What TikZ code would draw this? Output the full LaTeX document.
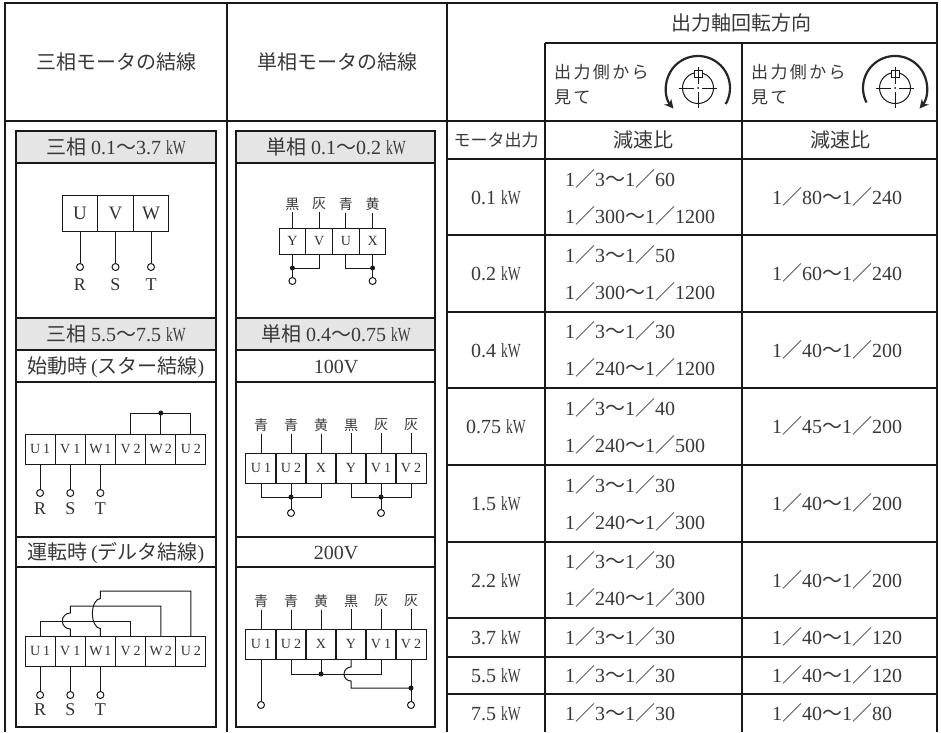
\documentclass[tikz,border=0pt]{standalone}
\usepackage{fontspec}
\usepackage{graphicx}
\usetikzlibrary{arrows.meta}
\setmainfont{Liberation Serif}
\newfontfamily\jp{Noto Sans CJK JP}
\newfontfamily\jpwide[LetterSpace=14]{Noto Sans CJK JP}
\newcommand\sla{{\jp ／}}
\newcommand\til{{\jp 〜}}
\newcommand\kw{\scalebox{0.68}[1]{kW}}
\tikzset{
  tabline/.style={line width=1.1pt, draw=black!90},
  wire/.style={line width=1pt, draw=black!90},
  hdrfill/.style={fill=black!10},
  txt/.style={font=\fontsize{20}{23}\selectfont, text=black!78, inner sep=0pt, text height=15pt, text depth=1pt},
  smalltxt/.style={font=\fontsize{17}{20}\selectfont, text=black!78, inner sep=0pt, text height=13pt, text depth=1pt},
  colour/.style={font=\fontsize{14}{16}\selectfont\jp, text=black!78, inner sep=2pt},
  cellbig/.style={wire, minimum width=35.5pt, minimum height=36pt, inner sep=0pt, outer sep=0pt, font=\fontsize{19}{22}\selectfont, text=black!80},
  cellfour/.style={wire, minimum width=26.75pt, minimum height=26pt, inner sep=0pt, outer sep=0pt, font=\fontsize{14}{16}\selectfont, text=black!80},
  cellsix/.style={wire, minimum width=30.17pt, minimum height=30pt, inner sep=0pt, outer sep=0pt, font=\fontsize{14}{16}\selectfont, text=black!80},
  term/.style={wire, circle, minimum size=7pt, inner sep=0pt, fill=white},
  jdot/.style={fill=black!90, circle, minimum size=5pt, inner sep=0pt},
  rst/.style={font=\fontsize{18}{20}\selectfont, text=black!80, inner sep=0pt},
  turn/.style={line width=2.2pt, draw=black!85, -{Stealth[length=9pt,width=9pt]}}
}
\newcommand\shaftmark[2]{%
  \draw[wire] (#1,#2) circle[radius=15.5];
  \draw[wire] ({#1-19},#2) -- ({#1-4},#2) ({#1+4},#2) -- ({#1+19},#2);
  \draw[wire] (#1,{#2+4}) -- (#1,{#2+20});
  \draw[wire,fill=white] ({#1-4},{#2-18}) rectangle ({#1+4},{#2-11});
  \draw[wire] (#1,{#2-21}) -- (#1,{#2-4});
  \fill[black!90] (#1,#2) circle[radius=1];
}
\begin{document}
\begin{tikzpicture}[x=1pt,y=-1pt]
\useasboundingbox (0,0) rectangle (941,732);

%% table frame
\draw[tabline] (5,732) -- (5,3) -- (937,3) -- (937,732);
\draw[tabline] (227,3) -- (227,732);
\draw[tabline] (447,3) -- (447,732);
\draw[tabline] (545,43) -- (937,43);
\draw[tabline] (545,43) -- (545,732);
\draw[tabline] (742,43) -- (742,732);
\draw[tabline] (5,121) -- (937,121);
\foreach \y in {159,235,312,388,465,542,618,657,694}
  \draw[tabline] (447,\y) -- (937,\y);

%% head row
\node[txt] (hThree) at (116,62) {\jp 三相モータの結線};
\node[txt] (hSingle) at (337,62) {\jp 単相モータの結線};
\node[txt] (hTurn) at (741,23) {\jp 出力軸回転方向};
\node[smalltxt,anchor=west] (hLeftA) at (554,72) {\jpwide 出力側から};
\node[smalltxt,anchor=west] (hLeftB) at (554,97) {\jpwide 見て};
\node[smalltxt,anchor=west] (hRightA) at (751,72) {\jpwide 出力側から};
\node[smalltxt,anchor=west] (hRightB) at (751,97) {\jpwide 見て};
%% turning arrows
\draw[turn] (725.7,104) arc[start angle=30,end angle=-220,radius=32];
\shaftmark{698}{88}
\draw[turn] (866.5,102.5) arc[start angle=-207,end angle=40,radius=32];
\shaftmark{895}{88}

%% ratio table
\node[smalltxt] (hOut) at (496,140) {\jp モータ出力};
\node[txt] (hRatioA) at (643,140) {\jp 減速比};
\node[txt] (hRatioB) at (840,140) {\jp 減速比};

\node[txt] (m1) at (496,197) {0.1 \kw};
\node[txt,anchor=west] (r1a) at (565,179) {1\sla 3\til 1\sla 60};
\node[txt,anchor=west] (r1b) at (565,216) {1\sla 300\til 1\sla 1200};
\node[txt,anchor=west] (q1) at (772,197) {1\sla 80\til 1\sla 240};

\node[txt] (m2) at (496,273.5) {0.2 \kw};
\node[txt,anchor=west] (r2a) at (565,255) {1\sla 3\til 1\sla 50};
\node[txt,anchor=west] (r2b) at (565,292) {1\sla 300\til 1\sla 1200};
\node[txt,anchor=west] (q2) at (772,273.5) {1\sla 60\til 1\sla 240};

\node[txt] (m3) at (496,350) {0.4 \kw};
\node[txt,anchor=west] (r3a) at (565,331.5) {1\sla 3\til 1\sla 30};
\node[txt,anchor=west] (r3b) at (565,368.5) {1\sla 240\til 1\sla 1200};
\node[txt,anchor=west] (q3) at (772,350) {1\sla 40\til 1\sla 200};

\node[txt] (m4) at (496,426.5) {0.75 \kw};
\node[txt,anchor=west] (r4a) at (565,408) {1\sla 3\til 1\sla 40};
\node[txt,anchor=west] (r4b) at (565,445) {1\sla 240\til 1\sla 500};
\node[txt,anchor=west] (q4) at (772,426.5) {1\sla 45\til 1\sla 200};

\node[txt] (m5) at (496,503.5) {1.5 \kw};
\node[txt,anchor=west] (r5a) at (565,485) {1\sla 3\til 1\sla 30};
\node[txt,anchor=west] (r5b) at (565,522) {1\sla 240\til 1\sla 300};
\node[txt,anchor=west] (q5) at (772,503.5) {1\sla 40\til 1\sla 200};

\node[txt] (m6) at (496,580) {2.2 \kw};
\node[txt,anchor=west] (r6a) at (565,561.5) {1\sla 3\til 1\sla 30};
\node[txt,anchor=west] (r6b) at (565,598.5) {1\sla 240\til 1\sla 300};
\node[txt,anchor=west] (q6) at (772,580) {1\sla 40\til 1\sla 200};

\node[txt] (m7) at (496,637.5) {3.7 \kw};
\node[txt,anchor=west] (r7) at (565,637.5) {1\sla 3\til 1\sla 30};
\node[txt,anchor=west] (q7) at (772,637.5) {1\sla 40\til 1\sla 120};

\node[txt] (m8) at (496,675.5) {5.5 \kw};
\node[txt,anchor=west] (r8) at (565,675.5) {1\sla 3\til 1\sla 30};
\node[txt,anchor=west] (q8) at (772,675.5) {1\sla 40\til 1\sla 120};

\node[txt] (m9) at (496,713) {7.5 \kw};
\node[txt,anchor=west] (r9) at (565,713) {1\sla 3\til 1\sla 30};
\node[txt,anchor=west] (q9) at (772,713) {1\sla 40\til 1\sla 80};

%% boxes of the two wiring columns
\fill[hdrfill] (16,131) rectangle (216,163);
\fill[hdrfill] (16,318) rectangle (216,350);
\fill[hdrfill] (236,131) rectangle (435,163);
\fill[hdrfill] (236,318) rectangle (435,350);
\draw[tabline] (16,131) rectangle (216,727);
\draw[tabline] (236,131) rectangle (435,727);
\foreach \y in {163,318,350,382,537,567} {
  \draw[tabline] (16,\y) -- (216,\y);
  \draw[tabline] (236,\y) -- (435,\y);
}
\node[txt] (gThreeA) at (116,147) {{\jp 三相} 0.1\til 3.7 \kw};
\node[txt] (gThreeB) at (116,334) {{\jp 三相} 5.5\til 7.5 \kw};
\node[txt] (gStar) at (116,366) {{\jp 始動時}\,({\jp スター結線})};
\node[txt] (gDelta) at (116,552) {{\jp 運転時}\,({\jp デルタ結線})};
\node[txt] (gOneA) at (336,147) {{\jp 単相} 0.1\til 0.2 \kw};
\node[txt] (gOneB) at (336,334) {{\jp 単相} 0.4\til 0.75 \kw};
\node[txt] (gLow) at (336,366) {100V};
\node[txt] (gHigh) at (336,552) {200V};

%% three-phase 0.1 - 3.7 kW
\node[cellbig] (tU) at (80,213) {U};
\node[cellbig] (tV) at (115.5,213) {V};
\node[cellbig] (tW) at (151,213) {W};
\node[term] (tR) at (80,267) {};
\node[term] (tS) at (115.5,267) {};
\node[term] (tT) at (151,267) {};
\draw[wire] (tU.south) -- (tR.north);
\draw[wire] (tV.south) -- (tS.north);
\draw[wire] (tW.south) -- (tT.north);
\node[rst] (tRl) at (80,285) {R};
\node[rst] (tSl) at (115.5,285) {S};
\node[rst] (tTl) at (151,285) {T};

%% single-phase 0.1 - 0.2 kW
\node[cellfour] (pY) at (292.4,241) {Y};
\node[cellfour] (pV) at (319.1,241) {V};
\node[cellfour] (pU) at (345.9,241) {U};
\node[cellfour] (pX) at (372.6,241) {X};
\node[colour] (pYc) at (292.4,204) {黒};
\node[colour] (pVc) at (319.1,204) {灰};
\node[colour] (pUc) at (345.9,204) {青};
\node[colour] (pXc) at (372.6,204) {黄};
\draw[wire] (pYc.south) -- (pY.north);
\draw[wire] (pVc.south) -- (pV.north);
\draw[wire] (pUc.south) -- (pU.north);
\draw[wire] (pXc.south) -- (pX.north);
\node[jdot] (pJa) at (292.4,268) {};
\node[jdot] (pJb) at (372.6,268) {};
\node[term] (pTa) at (292.4,281) {};
\node[term] (pTb) at (372.6,281) {};
\draw[wire] (pY.south) -- (pTa.north);
\draw[wire] (pV.south) |- (pJa.center);
\draw[wire] (pX.south) -- (pTb.north);
\draw[wire] (pU.south) |- (pJb.center);

%% star connection
\node[cellsix] (sU1) at (40.1,449) {U\hspace{3pt}1};
\node[cellsix] (sV1) at (70.3,449) {V\hspace{3pt}1};
\node[cellsix] (sW1) at (100.4,449) {W\hspace{2pt}1};
\node[cellsix] (sV2) at (130.6,449) {V\hspace{3pt}2};
\node[cellsix] (sW2) at (160.8,449) {W\hspace{2pt}2};
\node[cellsix] (sU2) at (190.9,449) {U\hspace{3pt}2};
\node[jdot] (sJ) at (160.8,413) {};
\draw[wire] (sV2.north) |- (sJ.center);
\draw[wire] (sU2.north) |- (sJ.center);
\draw[wire] (sW2.north) -- (sJ.center);
\node[term] (sR) at (40.1,493) {};
\node[term] (sS) at (70.3,493) {};
\node[term] (sT) at (100.4,493) {};
\draw[wire] (sU1.south) -- (sR.north);
\draw[wire] (sV1.south) -- (sS.north);
\draw[wire] (sW1.south) -- (sT.north);
\node[rst] (sRl) at (40.1,509) {R};
\node[rst] (sSl) at (70.3,509) {S};
\node[rst] (sTl) at (100.4,509) {T};

%% delta connection
\node[cellsix] (dU1) at (40.1,651) {U\hspace{3pt}1};
\node[cellsix] (dV1) at (70.3,651) {V\hspace{3pt}1};
\node[cellsix] (dW1) at (100.4,651) {W\hspace{2pt}1};
\node[cellsix] (dV2) at (130.6,651) {V\hspace{3pt}2};
\node[cellsix] (dW2) at (160.8,651) {W\hspace{2pt}2};
\node[cellsix] (dU2) at (190.9,651) {U\hspace{3pt}2};
\draw[wire] (dU1.north) -- ++(0,-15) -| (dV2.north);
\draw[wire] (dV1.north) -- ++(0,-7) arc[start angle=90,end angle=270,radius=8] -- ++(0,-7) -| (dW2.north);
\draw[wire] (dW1.north) -- ++(0,-7.5) arc[start angle=90,end angle=270,x radius=8,y radius=15] -- ++(0,-7.5) -| (dU2.north);
\node[term] (dR) at (40.1,695) {};
\node[term] (dS) at (70.3,695) {};
\node[term] (dT) at (100.4,695) {};
\draw[wire] (dU1.south) -- (dR.north);
\draw[wire] (dV1.south) -- (dS.north);
\draw[wire] (dW1.south) -- (dT.north);
\node[rst] (dRl) at (40.1,710) {R};
\node[rst] (dSl) at (70.3,710) {S};
\node[rst] (dTl) at (100.4,710) {T};

%% single-phase 100V
\node[cellsix] (aU1) at (261,468) {U\hspace{3pt}1};
\node[cellsix] (aU2) at (291,468) {U\hspace{3pt}2};
\node[cellsix] (aX) at (321,468) {X};
\node[cellsix] (aY) at (351,468) {Y};
\node[cellsix] (aV1) at (381,468) {V\hspace{3pt}1};
\node[cellsix] (aV2) at (411,468) {V\hspace{3pt}2};
\node[colour] (aU1c) at (261,425) {青};
\node[colour] (aU2c) at (291,425) {青};
\node[colour] (aXc) at (321,425) {黄};
\node[colour] (aYc) at (351,425) {黒};
\node[colour] (aV1c) at (381,425) {灰};
\node[colour] (aV2c) at (411,425) {灰};
\foreach \n in {U1,U2,X,Y,V1,V2}
  \draw[wire] (a\n c.south) -- (a\n.north);
\node[jdot] (aJa) at (291,497) {};
\node[jdot] (aJb) at (381,497) {};
\node[term] (aTa) at (291,513) {};
\node[term] (aTb) at (381,513) {};
\draw[wire] (aU1.south) |- (aJa.center);
\draw[wire] (aX.south) |- (aJa.center);
\draw[wire] (aU2.south) -- (aTa.north);
\draw[wire] (aY.south) |- (aJb.center);
\draw[wire] (aV2.south) |- (aJb.center);
\draw[wire] (aV1.south) -- (aTb.north);

%% single-phase 200V
\node[cellsix] (bU1) at (261,644) {U\hspace{3pt}1};
\node[cellsix] (bU2) at (291,644) {U\hspace{3pt}2};
\node[cellsix] (bX) at (321,644) {X};
\node[cellsix] (bY) at (351,644) {Y};
\node[cellsix] (bV1) at (381,644) {V\hspace{3pt}1};
\node[cellsix] (bV2) at (411,644) {V\hspace{3pt}2};
\node[colour] (bU1c) at (261,601) {青};
\node[colour] (bU2c) at (291,601) {青};
\node[colour] (bXc) at (321,601) {黄};
\node[colour] (bYc) at (351,601) {黒};
\node[colour] (bV1c) at (381,601) {灰};
\node[colour] (bV2c) at (411,601) {灰};
\foreach \n in {U1,U2,X,Y,V1,V2}
  \draw[wire] (b\n c.south) -- (b\n.north);
\node[jdot] (bJa) at (321,674) {};
\node[jdot] (bJb) at (411,688) {};
\node[term] (bTa) at (261,705) {};
\node[term] (bTb) at (411,705) {};
\draw[wire] (bU1.south) -- (bTa.north);
\draw[wire] (bU2.south) |- (bJa.center) -| (bV1.south);
\draw[wire] (bX.south) -- (bJa.center);
\draw[wire] (bY.south) -- ++(0,8) arc[start angle=270,end angle=90,radius=7] -- ++(0,7) -- (bJb.center);
\draw[wire] (bV2.south) -- (bTb.north);
\end{tikzpicture}
\end{document}
